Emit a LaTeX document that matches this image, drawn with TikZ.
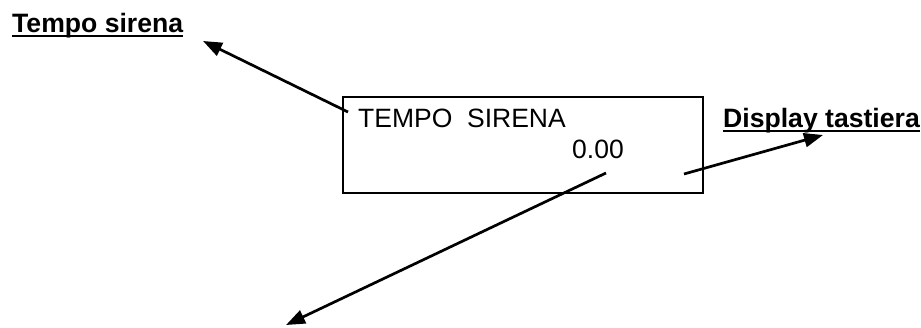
\documentclass[tikz,border=0pt]{standalone}
\usepackage{fontspec}
\setmainfont{Liberation Sans}
\usetikzlibrary{arrows.meta}

\newcommand{\ulabel}[1]{\setbox0\hbox{#1}\rlap{\rule[-0.2em]{\wd0}{0.1em}}\box0}

\begin{document}
\begin{tikzpicture}[x=1pt,y=-1pt,
	lbl/.style={anchor=base west,inner sep=0pt,font=\fontsize{26.6}{30}\selectfont\bfseries},
	disptext/.style={anchor=base west,inner sep=0pt,font=\fontsize{26.5}{30}\selectfont},
	pointer/.style={line width=2.7pt,-{Triangle[length=19pt,width=14pt]}}]
			\useasboundingbox (0,0) rectangle (921,327);

			% display della tastiera
			\draw [line width=2pt] (343,97) rectangle (703,193);
			\node [disptext] (riga1) at (358,127) {TEMPO\ \ SIRENA};
			\node [disptext] (riga2) at (572,158) {0.00};

			% etichette
			\node [lbl] (tempo) at (12,32) {\ulabel{Tempo sirena}};
			\node [lbl] (tastiera) at (723,127) {\ulabel{Display tastiera}};

			% frecce
			\coordinate (da1) at (348,112);
			\coordinate (a1) at (203,41);
			\coordinate (da2) at (606,173);
			\coordinate (a2) at (286,325);
			\coordinate (da3) at (684,174);
			\coordinate (a3) at (823,135);
			\draw [pointer] (da1) -- (a1);
			\draw [pointer] (da2) -- (a2);
			\draw [pointer] (da3) -- (a3);

			\end{tikzpicture}
\end{document}
